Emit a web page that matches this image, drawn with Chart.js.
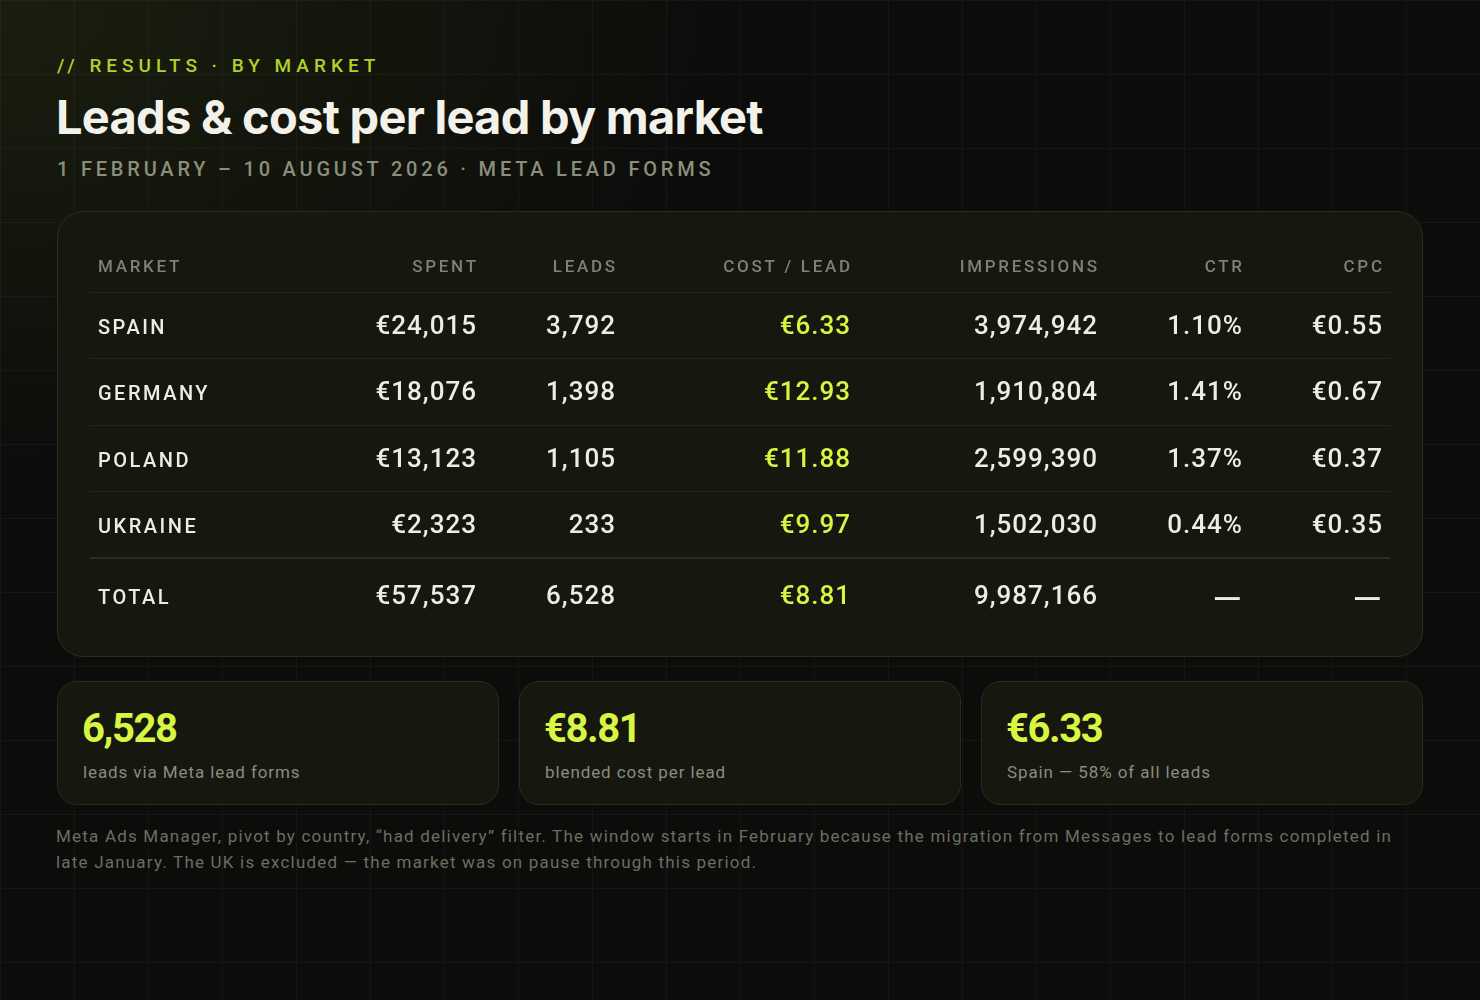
<!DOCTYPE html>
<html lang="en">
<head>
<meta charset="utf-8">
<title>Leads &amp; cost per lead by market</title>
<script src="https://cdn.jsdelivr.net/npm/chart.js@4.4.1/dist/chart.umd.min.js"></script>
<style>
  html, body { margin: 0; padding: 0; }
  body {
    width: 1480px; height: 1000px; overflow: hidden; position: relative;
    background-color: #0c0c0b;
    background-image:
      radial-gradient(ellipse 1000px 650px at 0 0, rgba(150, 190, 40, 0.10), rgba(150, 190, 40, 0) 75%),
      linear-gradient(rgba(255, 255, 255, 0.035) 1px, transparent 1px),
      linear-gradient(90deg, rgba(255, 255, 255, 0.035) 1px, transparent 1px);
    background-size: auto, 74px 74px, 74px 74px;
    font-family: Roboto, sans-serif;
  }
  .eyebrow {
    position: absolute; left: 57px; top: 56px;
    font: 500 19px/1 Roboto; letter-spacing: 5px; color: #b3cf2b; white-space: nowrap;
  }
  h1 {
    position: absolute; left: 56px; top: 92.5px; margin: 0;
    font: 700 47px/1 Inter, Roboto, sans-serif; color: #f3f2ea; letter-spacing: -0.75px; white-space: nowrap;
  }
  .sub {
    position: absolute; left: 57px; top: 159px;
    font: 500 20px/1 Roboto; letter-spacing: 3.8px; color: #8a8f7c; white-space: nowrap;
  }
  .card {
    position: absolute; left: 57px; top: 211px; width: 1366px; height: 446px;
    box-sizing: border-box; border: 1px solid #2a2c1f; border-radius: 26px; background: #16170f;
  }
  #tableWrap { position: absolute; left: 0; top: 0; width: 1364px; height: 444px; }
  .kpi {
    position: absolute; top: 681px; width: 442px; height: 124px;
    box-sizing: border-box; border: 1px solid #2a2c1f; border-radius: 20px; background: #16170f;
  }
  .kpi .v {
    position: absolute; left: 24px; top: 27px;
    font: 700 40px/1 Roboto, sans-serif; color: #d7f542; letter-spacing: -1.4px; white-space: nowrap;
  }
  .kpi .l {
    position: absolute; left: 25px; top: 81.7px;
    font: 400 17px/1 Roboto; color: #8a8d7f; letter-spacing: 0.9px; white-space: nowrap;
  }
  .note {
    position: absolute; left: 56px; top: 823px;
    font: 400 17px/26px Roboto; color: #6b6e62; letter-spacing: 1.2px; white-space: nowrap;
  }
</style>
</head>
<body>
  <div class="eyebrow">// RESULTS · BY MARKET</div>
  <h1>Leads &amp; cost per lead by market</h1>
  <div class="sub">1 FEBRUARY – 10 AUGUST 2026 · META LEAD FORMS</div>

  <div class="card">
    <div id="tableWrap"><canvas id="marketTable"></canvas></div>
  </div>

  <div class="kpi" style="left:57px"><div class="v" id="kpiLeads"></div><div class="l" id="kpiLeadsLabel"></div></div>
  <div class="kpi" style="left:519px"><div class="v" id="kpiCpl"></div><div class="l" id="kpiCplLabel"></div></div>
  <div class="kpi" style="left:981px"><div class="v" id="kpiBest"></div><div class="l" id="kpiBestLabel"></div></div>

  <div class="note">Meta Ads Manager, pivot by country, “had delivery” filter. The window starts in February because the migration from Messages to lead forms completed in<br>late January. The UK is excluded — the market was on pause through this period.</div>

<script>
// Data
const COLUMNS = ['MARKET', 'SPENT', 'LEADS', 'COST / LEAD', 'IMPRESSIONS', 'CTR', 'CPC'];
const MARKETS = ['SPAIN', 'GERMANY', 'POLAND', 'UKRAINE'];
const SPENT = [24015, 18076, 13123, 2323];
const LEADS = [3792, 1398, 1105, 233];
const COST_PER_LEAD = [6.33, 12.93, 11.88, 9.97];
const IMPRESSIONS = [3974942, 1910804, 2599390, 1502030];
const CTR = [1.10, 1.41, 1.37, 0.44];
const CPC = [0.55, 0.67, 0.37, 0.35];
const TOTAL_LABEL = 'TOTAL';

// Layout (table column widths like a grid template, px)
const COL_WIDTHS = [250, 144, 139, 235, 247, 145, 140];
const CELL_PAD = 8;
const TOTAL_ROW_SHIFT = 4;

const COLORS = {
    header: '#7d8271',
    text: '#eeede5',
    accent: '#d7f542',
    rule: '#23251b',
    ruleStrong: '#2b2e1e'
};
const FONTS = {
    header: '500 17px Roboto',
    market: '500 20px Roboto',
    value: '500 26px Roboto',
    dash: '400 38px Roboto'
};
const EMPTY = '—';

// Helpers
const sum = arr => arr.reduce((a, b) => a + b, 0);
const int = v => v.toLocaleString('en-US');
const eur0 = v => '€' + int(v);
const eur2 = v => '€' + v.toFixed(2);
const pct = v => v.toFixed(2) + '%';

const totalSpent = sum(SPENT);
const totalLeads = sum(LEADS);
const totalCpl = totalSpent / totalLeads;
const totalImpr = sum(IMPRESSIONS);

const ROW_LABELS = [...MARKETS, TOTAL_LABEL];

// Cell text per row, one entry per column after MARKET
const cellRows = MARKETS.map((m, i) => [
    eur0(SPENT[i]), int(LEADS[i]), eur2(COST_PER_LEAD[i]),
    int(IMPRESSIONS[i]), pct(CTR[i]), eur2(CPC[i])
]);
cellRows.push([eur0(totalSpent), int(totalLeads), eur2(totalCpl), int(totalImpr), EMPTY, EMPTY]);

// Column edges on the x scale
const colEdges = COL_WIDTHS.reduce((acc, w) => { acc.push(acc[acc.length - 1] + w); return acc; }, [0]);
const TABLE_WIDTH = colEdges[colEdges.length - 1];

function drawSpaced(ctx, text, x, y, align, spacing) {
    ctx.letterSpacing = spacing + 'px';
    ctx.textAlign = align;
    // canvas adds spacing after the last glyph too; shift right-aligned text back
    ctx.fillText(text, align === 'right' ? x + spacing : x, y);
}

const tableCells = {
    id: 'tableCells',
    afterDraw(chart) {
        const { ctx, chartArea, scales: { x, y } } = chart;
        ctx.save();
        ctx.textBaseline = 'alphabetic';

        // Header row
        ctx.font = FONTS.header;
        ctx.fillStyle = COLORS.header;
        const headerY = chartArea.top - 20;
        COLUMNS.forEach((label, c) => {
            if (c === 0) {
                drawSpaced(ctx, label, x.getPixelForValue(colEdges[0]) + CELL_PAD, headerY, 'left', 2.7);
            } else {
                drawSpaced(ctx, label, x.getPixelForValue(colEdges[c + 1]) - CELL_PAD, headerY, 'right', 2.7);
            }
        });

        // Body rows
        ROW_LABELS.forEach((rowLabel, r) => {
            const isTotal = r === ROW_LABELS.length - 1;
            const baseY = y.getPixelForValue(r) + 8.5 + (isTotal ? TOTAL_ROW_SHIFT : 0);

            ctx.font = FONTS.market;
            ctx.fillStyle = COLORS.text;
            drawSpaced(ctx, rowLabel, x.getPixelForValue(colEdges[0]) + CELL_PAD, baseY, 'left', 2.5);

            cellRows[r].forEach((txt, k) => {
                const c = k + 1;
                const right = x.getPixelForValue(colEdges[c + 1]) - CELL_PAD;
                ctx.fillStyle = COLUMNS[c] === 'COST / LEAD' ? COLORS.accent : COLORS.text;
                if (txt === EMPTY) {
                    ctx.font = FONTS.dash;
                    drawSpaced(ctx, txt, right, baseY + 8, 'right', 0);
                } else {
                    ctx.font = FONTS.value;
                    drawSpaced(ctx, txt, right, baseY, 'right', 1);
                }
            });
        });
        ctx.restore();
    }
};

new Chart(document.getElementById('marketTable'), {
    type: 'bar',
    data: { labels: ROW_LABELS, datasets: [] },
    options: {
        responsive: true,
        maintainAspectRatio: false,
        animation: false,
        events: [],
        layout: { padding: { left: 32, right: 32, top: 80, bottom: 31.5 } },
        plugins: {
            legend: { display: false },
            tooltip: { enabled: false },
            title: { display: false }
        },
        scales: {
            x: {
                type: 'linear', min: 0, max: TABLE_WIDTH,
                offset: false,
                ticks: { display: false },
                grid: { display: false, drawTicks: false },
                border: { display: false }
            },
            y: {
                type: 'category',
                labels: ROW_LABELS,
                offset: true,
                ticks: { display: false },
                border: { display: false },
                grid: {
                    offset: true,
                    drawTicks: false,
                    // the closing line under the last row has no tick context (index undefined)
                    color: c => c.index === undefined ? 'rgba(0,0,0,0)'
                        : (c.index === ROW_LABELS.length - 1 ? COLORS.ruleStrong : COLORS.rule),
                    lineWidth: c => c.index === ROW_LABELS.length - 1 ? 2 : 1
                }
            }
        }
    },
    plugins: [tableCells]
});

// KPI cards
const bestIdx = COST_PER_LEAD.indexOf(Math.min(...COST_PER_LEAD));
const bestName = MARKETS[bestIdx].charAt(0) + MARKETS[bestIdx].slice(1).toLowerCase();
const bestShare = Math.round(LEADS[bestIdx] / totalLeads * 100);

document.getElementById('kpiLeads').textContent = int(totalLeads);
document.getElementById('kpiLeadsLabel').textContent = 'leads via Meta lead forms';
document.getElementById('kpiCpl').textContent = eur2(totalCpl);
document.getElementById('kpiCplLabel').textContent = 'blended cost per lead';
document.getElementById('kpiBest').textContent = eur2(COST_PER_LEAD[bestIdx]);
document.getElementById('kpiBestLabel').textContent = bestName + ' — ' + bestShare + '% of all leads';
</script>
</body>
</html>
